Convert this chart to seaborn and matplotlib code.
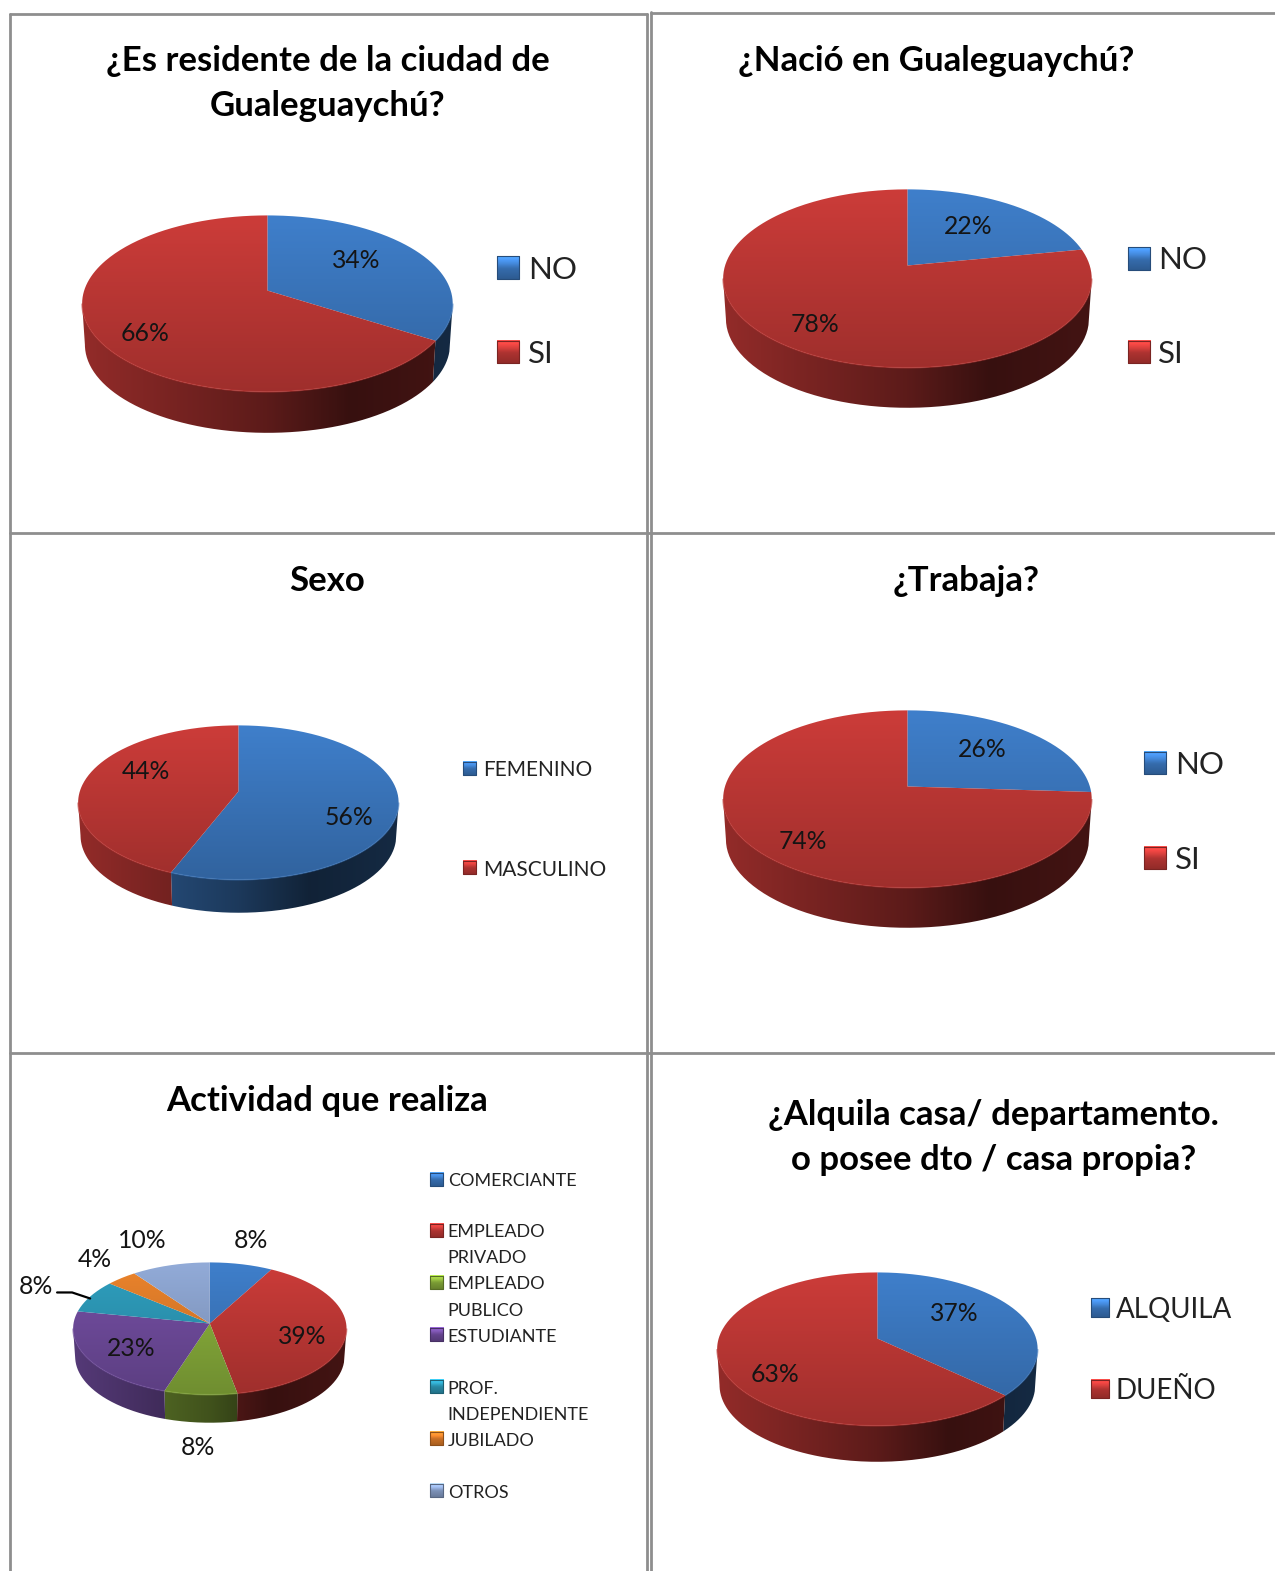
"""Six faux-3D pie charts from a survey, laid out in a framed 2x3 grid."""

import matplotlib
matplotlib.use('Agg')
import matplotlib.pyplot as plt
import numpy as np
import seaborn as sns
from matplotlib.colors import to_rgb
from matplotlib.patches import PathPatch
from matplotlib.path import Path

W, H = 1273, 1568

BLUE, RED = '#3F7FCB', '#CC3C39'
ACT_COLORS = [BLUE, RED, '#8FB63E', '#7650A6', '#2FA0C0', '#EC842C', '#92ABD8']

res_labels = ['NO', 'SI']
res_values = [34, 66]
nacio_labels = ['NO', 'SI']
nacio_values = [22, 78]
sexo_labels = ['FEMENINO', 'MASCULINO']
sexo_values = [56, 44]
trabaja_labels = ['NO', 'SI']
trabaja_values = [26, 74]
act_labels = ['COMERCIANTE', 'EMPLEADO\nPRIVADO', 'EMPLEADO\nPUBLICO', 'ESTUDIANTE',
              'PROF.\nINDEPENDIENTE', 'JUBILADO', 'OTROS']
act_values = [8, 39, 8, 23, 8, 4, 10]
alquila_labels = ['ALQUILA', 'DUEÑO']
alquila_values = [37, 63]

# box = left, right, top, ellipse bottom, wedge vertex y, side bottom (reference pixels)
CHARTS = [
    dict(title='¿Es residente de la ciudad de\nGualeguaychú?', title_xy=(327, 59),
         labels=res_labels, values=res_values, colors=[BLUE, RED],
         box=(82, 452, 215, 391, 290, 432),
         pct_xy=[(356, 258), (145, 331)],
         leg_x=496, leg_size=22, leg_y=[267, 351], leg_font=22.5, leg_text_x=527),
    dict(title='¿Nació en Gualeguaychú?', title_xy=(935, 59),
         labels=nacio_labels, values=nacio_values, colors=[BLUE, RED],
         box=(722, 1090, 189, 367, 265, 407),
         pct_xy=[(967, 224), (814, 322)],
         leg_x=1126, leg_size=22, leg_y=[258, 351], leg_font=22.5, leg_text_x=1156),
    dict(title='Sexo', title_xy=(327, 578),
         labels=sexo_labels, values=sexo_values, colors=[BLUE, RED],
         box=(78, 398, 724, 878, 790, 911),
         pct_xy=[(348, 814), (146, 768)],
         leg_x=462, leg_size=13, leg_y=[767, 866], leg_font=15, leg_text_x=482),
    dict(title='¿Trabaja?', title_xy=(965, 578),
         labels=trabaja_labels, values=trabaja_values, colors=[BLUE, RED],
         box=(722, 1090, 709, 886, 785, 926),
         pct_xy=[(981, 746), (802, 838)],
         leg_x=1142, leg_size=22, leg_y=[762, 856], leg_font=22.5, leg_text_x=1173),
    dict(title='Actividad que realiza', title_xy=(327, 1097),
         labels=act_labels, values=act_values, colors=ACT_COLORS,
         box=(73, 346, 1260, 1392, 1321, 1420),
         pct_xy=[(251, 1236), (302, 1332), (198, 1443), (131, 1344),
                 (36, 1282), (95, 1255), (142, 1236)],
         leg_x=429, leg_size=13, leg_y=[1177, 1228, 1280, 1332, 1384, 1436, 1488],
         leg_font=13, leg_text_x=447),
    dict(title='¿Alquila casa/ departamento.\no posee dto / casa propia?', title_xy=(992, 1111),
         labels=alquila_labels, values=alquila_values, colors=[BLUE, RED],
         box=(716, 1036, 1270, 1423, 1336, 1459),
         pct_xy=[(953, 1309), (774, 1370)],
         leg_x=1089, leg_size=18, leg_y=[1305, 1386], leg_font=20, leg_text_x=1114),
]


def make_projection(box):
    """Return a function mapping pie angles to points on the tilted, perspective disc."""
    left, right, top, ell_bottom, vertex_y, _ = box
    up, down = vertex_y - top, ell_bottom - vertex_y
    p = (down - up) / (down + up)
    a = up * (1 + p)
    rx = (right - left) / 2 * np.sqrt(1 - p ** 2)

    def project(theta):
        t = np.radians(theta)
        w = 1 + p * np.sin(t)
        return rx * np.cos(t) / w, a * np.sin(t) / w

    return project, p


def shaded_fill(ax, verts, image, extent, zorder):
    """Fill a polygon with a gradient image clipped to it."""
    patch = PathPatch(Path(np.vstack([verts, verts[:1]])), transform=ax.transData,
                      facecolor='none', edgecolor='none')
    ax.add_patch(patch)
    im = ax.imshow(image, extent=extent, origin='upper', aspect='auto',
                   interpolation='bilinear', zorder=zorder)
    im.set_clip_path(patch)


def draw_pie(fig, chart):
    left, right, top, ell_bottom, vertex_y, side_bottom = chart['box']
    cx = (left + right) / 2
    pad = 6
    x0, x1 = left - pad, right + pad
    y0, y1 = top - pad, side_bottom + pad
    ax = fig.add_axes([x0 / W, 1 - y1 / H, (x1 - x0) / W, (y1 - y0) / H])

    wedges, _ = ax.pie(chart['values'], colors=chart['colors'], startangle=90, counterclock=False)
    project, p = make_projection(chart['box'])
    depth = side_bottom - ell_bottom
    half = (right - left) / 2
    y_hi, y_lo = vertex_y - top, vertex_y - ell_bottom
    limit = np.degrees(np.arcsin(p))

    rows = np.linspace(1.0, 0.78, 64)[:, None, None]
    cols = np.linspace(-1, 1, 128)
    side_shade = np.interp(cols, [-1, 0, 0.45, 1], [0.72, 0.45, 0.27, 0.33])[None, :, None]
    top_extent = (-half, half, y_lo, y_hi)
    side_extent = (-half, half, y_lo - depth - 2, y_hi)

    for wedge, color in zip(wedges, chart['colors']):
        wedge.set_visible(False)
        base = np.array(to_rgb(color))[None, None, :]

        # outer wall, only the part of the wedge facing the viewer
        a, b = max(wedge.theta1, -180 + limit), min(wedge.theta2, -limit)
        if b > a:
            arc = np.linspace(a, b, 120)
            ux, uy = project(arc)
            wall = np.vstack([np.column_stack([ux, uy]),
                              np.column_stack([ux[::-1] * 0.985, uy[::-1] - depth])])
            shaded_fill(ax, wall, base * side_shade, side_extent, 2)
            ax.plot(ux, uy, color=base[0, 0] * 0.92, lw=1.2, alpha=0.55,
                    zorder=4, solid_capstyle='butt')

        # top face
        arc = np.linspace(wedge.theta1, wedge.theta2, 240)
        ux, uy = project(arc)
        face = np.vstack([[0, 0], np.column_stack([ux, uy])])
        shaded_fill(ax, face, base * rows, top_extent, 3)

    ax.set_aspect('auto')
    ax.set_xlim(x0 - cx, x1 - cx)
    ax.set_ylim(vertex_y - y1, vertex_y - y0)
    ax.axis('off')


def draw_swatch(ax, x, y, size, color):
    """Small legend square with a glossy vertical gradient."""
    base = np.array(to_rgb(color))
    stops = np.interp(np.linspace(0, 1, 24), [0, 0.3, 0.55, 1], [1.35, 1.1, 0.85, 0.72])
    image = np.clip(base[None, None, :] * stops[:, None, None], 0, 1)
    ax.imshow(image, extent=(x, x + size, y + size / 2, y - size / 2), aspect='auto',
              interpolation='bilinear', zorder=3)
    ax.plot([x, x + size, x + size, x, x], [y - size / 2, y - size / 2, y + size / 2, y + size / 2, y - size / 2],
            color=base * 0.6, lw=0.8, zorder=4)


def draw_overlay(fig):
    """Frames, titles, percent labels and legends, in reference pixel coordinates."""
    ax = fig.add_axes([0, 0, 1, 1], facecolor='none')
    frame = '#8E8E8E'
    for x, y_a, y_b in [(10, 14, H), (646, 14, H), (650, 12, H)]:
        ax.plot([x, x], [y_a, y_b], color=frame, lw=2.0, zorder=1)
    for y, x_a, x_b in [(14, 10, 646), (13, 650, W), (532, 10, W), (1051, 10, W)]:
        ax.plot([x_a, x_b], [y, y], color=frame, lw=2.0, zorder=1)

    for chart in CHARTS:
        tx, ty = chart['title_xy']
        for i, line in enumerate(chart['title'].split('\n')):
            ax.text(tx, ty + 2 + i * 45, line, ha='center', va='center', fontsize=25,
                    fontweight='bold', color='black')
        for value, (px, py) in zip(chart['values'], chart['pct_xy']):
            ax.text(px, py + 2, f'{value}%', ha='center', va='center', fontsize=17.8, color='#141414', zorder=5)
        for label, color, y in zip(chart['labels'], chart['colors'], chart['leg_y']):
            draw_swatch(ax, chart['leg_x'], y, chart['leg_size'], color)
            for i, line in enumerate(label.split('\n')):
                ax.text(chart['leg_text_x'], y + 2 + i * 26, line, ha='left', va='center',
                        fontsize=chart['leg_font'], color='#222222')

    ax.plot([57, 72, 90], [1290, 1290, 1296], color='black', lw=1.6, zorder=5)
    ax.set_xlim(0, W)
    ax.set_ylim(H, 0)
    ax.axis('off')


def main():
    sns.set_theme(style='white')
    plt.rcParams['font.family'] = ['Lato', 'DejaVu Sans']
    fig = plt.figure(figsize=(12.75, 15.71), dpi=100, facecolor='white')
    for chart in CHARTS:
        draw_pie(fig, chart)
    draw_overlay(fig)
    fig.savefig('out.png', dpi=100, facecolor='white')


if __name__ == '__main__':
    main()
